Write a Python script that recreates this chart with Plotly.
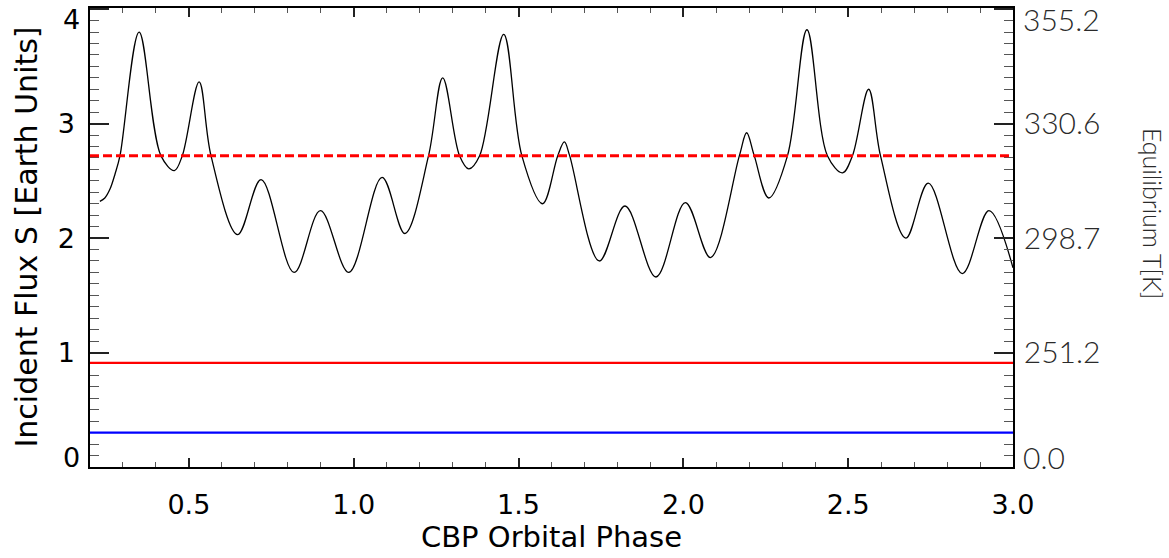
import plotly.graph_objects as go

# CBP orbital phase and incident flux (Earth units) along the orbit
phase = [0.230, 0.245, 0.261, 0.276, 0.291, 0.349, 0.415, 0.456, 0.480, 0.531,
         0.567, 0.648, 0.719, 0.819, 0.899, 0.985, 1.086, 1.155, 1.227, 1.270,
         1.321, 1.349, 1.382, 1.455, 1.510, 1.573, 1.619, 1.639, 1.655, 1.745,
         1.823, 1.917, 2.006, 2.082, 2.170, 2.192, 2.215, 2.259, 2.316, 2.375,
         2.437, 2.483, 2.513, 2.562, 2.598, 2.675, 2.743, 2.846, 2.927, 3.000]
flux = [2.32, 2.35, 2.43, 2.56, 2.72, 3.80, 2.72, 2.59, 2.72, 3.365,
        2.72, 2.03, 2.51, 1.70, 2.24, 1.70, 2.53, 2.04, 2.72, 3.40,
        2.72, 2.605, 2.72, 3.78, 2.72, 2.30, 2.72, 2.84, 2.72, 1.80,
        2.28, 1.66, 2.31, 1.83, 2.72, 2.92, 2.72, 2.35, 2.72, 3.82,
        2.72, 2.57, 2.72, 3.30, 2.72, 2.00, 2.48, 1.69, 2.24, 1.74]

# Reference flux levels
flux_dashed_red = 2.72
flux_solid_red = 0.91
flux_blue = 0.30

# Axis settings
phase_range = [0.2, 3.0]
flux_range = [0.0, 4.01]
flux_ticks = [0, 1, 2, 3, 4]
flux_ticktext = ["0", "1", "2", "3", "4"]
temp_ticktext = ["0.0", "251.2", "298.7", "330.6", "355.2"]
phase_ticks = [0.5, 1.0, 1.5, 2.0, 2.5, 3.0]
phase_ticktext = ["0.5", "1.0", "1.5", "2.0", "2.5", "3.0"]

FONT = "DejaVu Sans"
THIN_FAMILY = "Lato, DejaVu Sans"
THIN_COLOR = "#2a2a2a"
left_font = dict(family=FONT, size=27, color="black")
right_font = dict(family=THIN_FAMILY, size=30, color=THIN_COLOR, weight=300)

fig = go.Figure()

fig.add_trace(go.Scatter(
    x=phase, y=flux, mode="lines",
    line=dict(color="black", width=1.3, shape="spline", smoothing=1.0),
    showlegend=False, hoverinfo="skip"))

# invisible trace to activate the right-hand temperature axis
fig.add_trace(go.Scatter(x=[phase[0]], y=[flux[0]], yaxis="y2", mode="markers",
                         marker=dict(opacity=0), showlegend=False, hoverinfo="skip"))

fig.add_hline(y=flux_dashed_red, line=dict(color="#ff0000", width=3, dash="9px,4px"))
fig.add_hline(y=flux_solid_red, line=dict(color="#ff0000", width=2.2))
fig.add_hline(y=flux_blue, line=dict(color="#0000ff", width=2.2))

# interior tick labels come from the axes; the end labels are nudged inward
inner_left = [t if 0 < v < 4 else "" for v, t in zip(flux_ticks, flux_ticktext)]
inner_right = [t if 0 < v < 4 else "" for v, t in zip(flux_ticks, temp_ticktext)]

annotations = []
for v, lt, rt in zip(flux_ticks, flux_ticktext, temp_ticktext):
    if 0 < v < 4:
        continue
    shift = -10 if v == max(flux_ticks) else 10
    annotations.append(dict(text=lt, xref="paper", yref="y", x=0, y=v, xanchor="right",
                            yanchor="middle", xshift=-8, yshift=shift, showarrow=False,
                            font=left_font))
    annotations.append(dict(text=rt, xref="paper", yref="y", x=1, y=v, xanchor="left",
                            yanchor="middle", xshift=8, yshift=shift, showarrow=False,
                            font=right_font))

# axis titles
annotations.append(dict(
    text="Incident Flux S [Earth Units]", xref="paper", yref="paper", x=0, y=0.5,
    xanchor="center", yanchor="middle", xshift=-64, textangle=-90, showarrow=False,
    font=dict(family=FONT, size=30, color="black")))
annotations.append(dict(
    text="Equilibrium T[K]", xref="paper", yref="paper", x=1.152, y=0.553,
    xanchor="center", yanchor="middle", textangle=90, showarrow=False,
    font=dict(family=THIN_FAMILY, size=25, color=THIN_COLOR, weight=300)))

fig.update_layout(
    width=1169, height=558,
    margin=dict(l=90, r=156, t=6, b=91),
    paper_bgcolor="white", plot_bgcolor="white",
    font=dict(family=FONT, size=27, color="black"),
    xaxis=dict(
        range=phase_range, tickvals=phase_ticks, ticktext=phase_ticktext,
        showgrid=False, zeroline=False,
        showline=True, linecolor="black", linewidth=1.5, mirror="ticks",
        ticks="inside", ticklen=9, tickwidth=1.5, tickcolor="#222222",
        minor=dict(dtick=0.1, tick0=0, ticks="inside", ticklen=5, tickwidth=1.3, tickcolor="#555555"),
        tickfont=left_font,
        ticklabelstandoff=13,
        title=dict(text="CBP Orbital Phase", font=dict(family=FONT, size=29, color="black"), standoff=8),
    ),
    yaxis=dict(
        range=flux_range, tickvals=flux_ticks, ticktext=inner_left,
        showgrid=False, zeroline=False,
        showline=True, linecolor="black", linewidth=1.5,
        ticks="inside", ticklen=19, tickwidth=1.5, tickcolor="#222222",
        minor=dict(dtick=0.1, tick0=0, ticks="inside", ticklen=9, tickwidth=1.3, tickcolor="#555555"),
        tickfont=left_font,
        ticklabelstandoff=8,
    ),
    yaxis2=dict(
        range=flux_range, tickvals=flux_ticks, ticktext=inner_right,
        overlaying="y", side="right", anchor="x",
        showgrid=False, zeroline=False,
        showline=True, linecolor="black", linewidth=1.5,
        ticks="inside", ticklen=19, tickwidth=1.5, tickcolor="#222222",
        minor=dict(dtick=0.1, tick0=0, ticks="inside", ticklen=9, tickwidth=1.3, tickcolor="#555555"),
        tickfont=right_font,
        ticklabelstandoff=3,
    ),
    annotations=annotations,
)

fig.write_html("out.html")
